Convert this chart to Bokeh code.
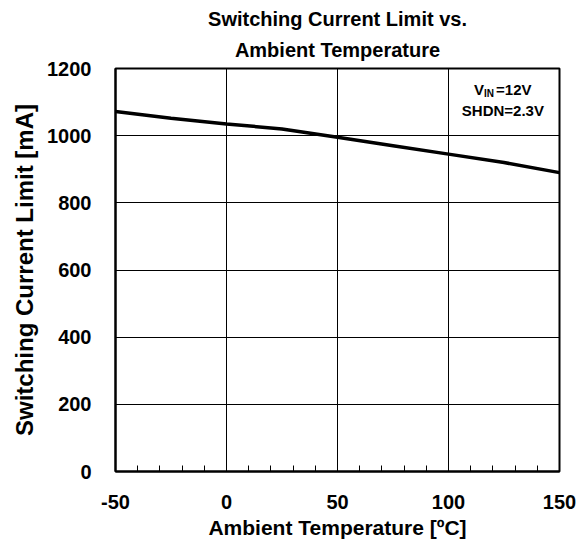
from bokeh.plotting import figure
from bokeh.models import Range1d, FixedTicker, Label, Title
from bokeh.embed import file_html
from bokeh.resources import INLINE

# Data
temperature_c = [-50, -25, 0, 25, 50, 75, 100, 125, 150]
current_limit_ma = [1072, 1052, 1035, 1020, 995, 970, 945, 920, 890]

x_ticks = [-50, 0, 50, 100, 150]
y_ticks = [0, 200, 400, 600, 800, 1000, 1200]
x_minor = list(range(-50, 151, 10))

FONT = "Liberation Sans"

p = figure(width=584, height=546, output_backend="svg", toolbar_location=None,
           x_range=Range1d(-50, 150), y_range=Range1d(0, 1200),
           min_border_left=115, min_border_right=25, min_border_top=68,
           min_border_bottom=75)
p.title = None
p.background_fill_color = "white"
p.border_fill_color = "white"
p.outline_line_color = "black"
p.outline_line_width = 2

t2 = Title(text="Ambient Temperature", align="center", text_font=FONT,
           text_font_size="20px", text_font_style="bold", text_color="black",
           standoff=15)
t1 = Title(text="Switching Current Limit vs.", align="center", text_font=FONT,
           text_font_size="20px", text_font_style="bold", text_color="black",
           standoff=0)
p.add_layout(t2, "above")
p.add_layout(t1, "above")

p.line(temperature_c, current_limit_ma, line_color="black", line_width=3.5)

# axes
p.xaxis.ticker = FixedTicker(ticks=x_ticks, minor_ticks=x_minor)
p.yaxis.ticker = FixedTicker(ticks=y_ticks)
p.xaxis.major_label_overrides = {t: str(t) for t in x_ticks}
for ax in (p.xaxis[0], p.yaxis[0]):
    ax.major_label_text_font = FONT
    ax.major_label_text_font_size = "20px"
    ax.major_label_text_font_style = "bold"
    ax.major_label_text_color = "black"
    ax.axis_label_text_font = FONT
    ax.axis_label_text_font_style = "bold"
    ax.axis_label_text_color = "black"
    ax.axis_line_color = "black"
    ax.axis_line_width = 2
    ax.major_tick_out = 0
    ax.major_tick_in = 0
    ax.minor_tick_out = 0

p.xaxis.axis_label_text_font_size = "21px"
p.yaxis.axis_label_text_font_size = "24px"
p.xaxis.minor_tick_in = 6
p.xaxis.minor_tick_line_color = "black"
p.yaxis.minor_tick_in = 0
p.yaxis.minor_tick_line_color = None

p.xaxis.axis_label = "Ambient Temperature [ºC]"
p.yaxis.axis_label = "Switching Current Limit [mA]"
p.xaxis.major_label_standoff = 23
p.yaxis.major_label_standoff = 24
p.xaxis.axis_label_standoff = 4
p.yaxis.axis_label_standoff = 6

p.xgrid.ticker = FixedTicker(ticks=x_ticks)
p.ygrid.ticker = FixedTicker(ticks=y_ticks)
p.grid.grid_line_color = "black"
p.grid.grid_line_width = 1
p.grid.grid_line_alpha = 1

# condition annotation
lab_kw = dict(text_font=FONT, text_font_style="bold", text_color="black")
p.add_layout(Label(x=111.5, y=1137, text="V", text_font_size="15px",
                   text_align="left", text_baseline="middle", **lab_kw))
p.add_layout(Label(x=111.5, y=1137, x_offset=10, y_offset=-4, text="IN",
                   text_font_size="10px", text_align="left",
                   text_baseline="middle", **lab_kw))
p.add_layout(Label(x=111.5, y=1137, x_offset=22, text="=12V",
                   text_font_size="15px", text_align="left",
                   text_baseline="middle", **lab_kw))
p.add_layout(Label(x=124.5, y=1075, text="SHDN=2.3V", text_font_size="15px",
                   text_align="center", text_baseline="middle", **lab_kw))

open("out.html", "w").write(file_html(p, INLINE))
